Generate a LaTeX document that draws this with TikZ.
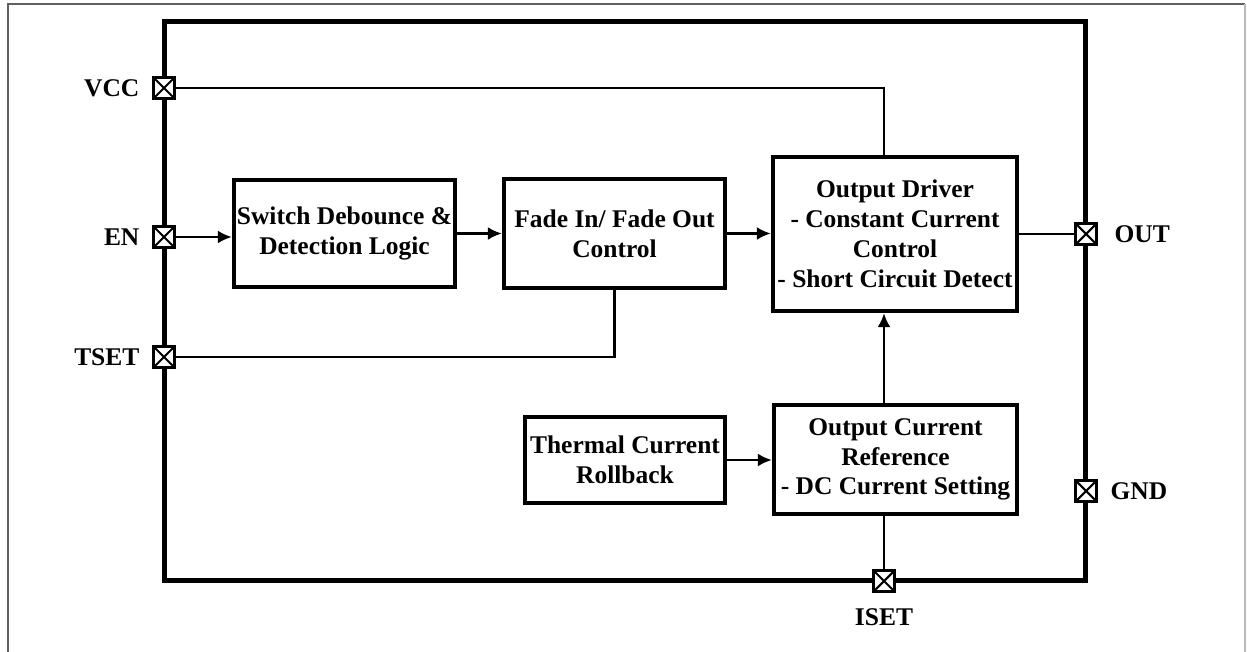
\documentclass[tikz,border=0pt]{standalone}
\usepackage{fontspec}
\setmainfont{Liberation Serif}
\usetikzlibrary{positioning,arrows.meta}

\tikzset{
  bloc/.style={draw, line width=2.5pt, align=center, inner sep=0pt,
    font=\fontsize{14.5}{17}\selectfont\bfseries},
  broche/.style={draw, line width=2pt, fill=white, minimum size=0.42cm, inner sep=0pt,
    path picture={\draw[line width=1.2pt]
      (path picture bounding box.south west) -- (path picture bounding box.north east)
      (path picture bounding box.north west) -- (path picture bounding box.south east);}},
  nom/.style={font=\fontsize{14.5}{17}\selectfont\bfseries, inner sep=0pt},
  liaison/.style={line width=1.4pt},
  fleche/.style={liaison, -{Latex[length=0.28cm, width=0.26cm]}}
}

\begin{document}
\begin{tikzpicture}[x=0.02cm, y=-0.02cm]
        % Cadre de l'image : on fixe la taille (1247 x 652)
        \useasboundingbox (0,0) rectangle (1247,652);
        \draw[gray!75!black, line width=0.8pt] (8,652) -- (8,4) -- (1245,4);
        \draw[gray!55, line width=0.8pt] (1245,4) -- (1245,652);

        % Le boîtier du circuit
        \node[draw, line width=2.8pt, minimum width=18.44cm, minimum height=11.2cm] (puce) at (625,301) {};

        % Les blocs internes
        \node[bloc, minimum width=4.42cm, minimum height=2.14cm] (debounce) at (344.5,233.5) {Switch Debounce \&\\Detection Logic};
        \node[bloc, minimum width=4.42cm, minimum height=2.18cm] (fade) at (614.5,233.5) {Fade In/ Fade Out\\Control};
        \node[bloc, minimum width=4.88cm, minimum height=3.08cm] (driver) at (895,234) {Output Driver\\- Constant Current\\Control\\- Short Circuit Detect};
        \node[bloc, minimum width=4.0cm, minimum height=1.72cm] (thermal) at (625,460) {Thermal Current\\Rollback};
        \node[bloc, minimum width=4.86cm, minimum height=2.18cm] (ref) at (895.5,459.5) {Output Current\\Reference\\- DC Current Setting};

        % Les broches, posées sur le bord du boîtier
        \node[broche] (vcc) at (164,88) {};
        \node[broche] (en) at (164,237) {};
        \node[broche] (tset) at (164,357) {};
        \node[broche] (out) at (1086,234) {};
        \node[broche] (gnd) at (1086,491) {};
        \node[broche] (iset) at (884,581) {};

        % Les noms des broches
        \node[nom, left=0.24cm of vcc] {VCC};
        \node[nom, left=0.24cm of en] {EN};
        \node[nom, left=0.24cm of tset] {TSET};
        \node[nom, right=0.32cm of out] {OUT};
        \node[nom, right=0.24cm of gnd] {GND};
        \node[nom, below=0.3cm of iset] {ISET};

        % Les liaisons
        \draw[liaison] (vcc.east) -| (driver.north -| iset);
        \draw[fleche] (en.east) -- (en.east -| debounce.west);
        \draw[fleche] (debounce.east) -- (fade.west);
        \draw[fleche] (fade.east) -- (fade.east -| driver.west);
        \draw[liaison] (driver.east |- out) -- (out.west);
        \draw[liaison] (fade.south) |- (tset.east);
        \draw[fleche] (thermal.east) -- (thermal.east -| ref.west);
        \draw[fleche] (ref.north -| iset) -- (driver.south -| iset);
        \draw[liaison] (ref.south -| iset) -- (iset.north);
\end{tikzpicture}
\end{document}
